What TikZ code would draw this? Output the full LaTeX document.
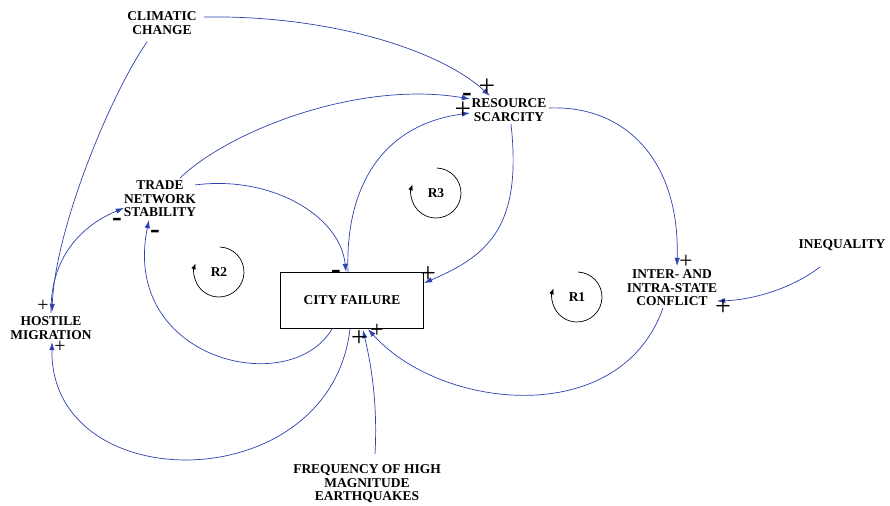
\documentclass[tikz,border=0pt]{standalone}
\usepackage{fontspec}
\setmainfont{Liberation Serif}
\usetikzlibrary{calc,arrows.meta}
\definecolor{linkblue}{RGB}{45,65,175}
\tikzset{
    var/.style={font=\bfseries\fontsize{11.5}{11.5}\selectfont, align=center, inner sep=1pt},
    link/.style={draw=linkblue, line width=0.6pt, -{Latex[length=7pt,width=4.5pt]}},
    loopsign/.style={draw=black, line width=0.6pt, -{Latex[length=5pt,width=4pt]}},
    pluslabel/.style={font=\fontsize{#1}{#1}\selectfont, inner sep=0pt},
    minuslabel/.style={font=\bfseries\fontsize{25}{25}\selectfont, inner sep=0pt},
}

\begin{document}
\begin{tikzpicture}[x=0.03cm,y=0.03cm]
            \useasboundingbox (0,0) rectangle (890,506);

            \node[var] (cc) at (162,483) {CLIMATIC\\CHANGE};
            \node[var] (rs) at (509,396) {RESOURCE\\SCARCITY};
            \node[var] (tns) at (160,307) {TRADE\\NETWORK\\STABILITY};
            \node[var, draw, line width=0.8pt, minimum width=4.29cm, minimum height=1.68cm] (cf) at (352,206) {CITY FAILURE};
            \node[var] (hm) at (51,178) {HOSTILE\\MIGRATION};
            \node[var] (ic) at (672,218) {INTER- AND\\INTRA-STATE\\CONFLICT};
            \node[var] (ineq) at (842,261) {INEQUALITY};
            \node[var] (eq) at (367,22) {FREQUENCY OF HIGH\\MAGNITUDE\\EARTHQUAKES};

            \draw[link] ($(cc)+(42,6)$) .. controls (330,491) and (440,456) .. ($(rs)+(-19,14)$);
            \draw[link] ($(cc)+(-15,-19)$) .. controls (110,411) and (55,276) .. ($(hm)+(1,16)$);
            \draw[link] ($(hm)+(0,15)$) .. controls (50,256) and (90,284) .. ($(tns)+(-36,-9)$);
            \draw[link] ($(cf)+(-20,-29)$) .. controls (290,106) and (120,146) .. ($(tns)+(-11,-21)$);
            \draw[link] ($(tns)+(35,14)$) .. controls (270,331) and (340,291) .. ($(cf)+(-6,28)$);
            \draw[link] ($(tns)+(20,21)$) .. controls (230,376) and (360,426) .. ($(rs)+(-39,11)$);
            \draw[link] ($(cf)+(-4,28)$) .. controls (345,316) and (380,381) .. ($(rs)+(-39,-3)$);
            \draw[link] ($(rs)+(2,-14)$) .. controls (522,281) and (490,251) .. ($(cf)+(72,17)$);
            \draw[link] ($(rs)+(40,2)$) .. controls (625,401) and (680,346) .. ($(ic)+(5,22)$);
            \draw[link] ($(ineq)+(-22,-22)$) .. controls (790,216) and (750,206) .. ($(ic)+(45,-13)$);
            \draw[link] ($(ic)+(-9,-20)$) .. controls (620,76) and (440,96) .. ($(cf)+(16,-29)$);
            \draw[link] ($(eq)+(8,30)$) .. controls (378,106) and (370,146) .. ($(cf)+(11,-30)$);
            \draw[link] ($(cf)+(-2,-29)$) .. controls (330,6) and (50,6) .. ($(hm)+(1,-14)$);

            \node[pluslabel=25] (s1) at (487,419) {+};
            \node[minuslabel] (s2) at (467,409) {-};
            \node[pluslabel=25] (s3) at (463,396) {+};
            \node[minuslabel] (s4) at (117,284) {-};
            \node[minuslabel] (s5) at (155,272) {-};
            \node[minuslabel] (s6) at (336,232) {-};
            \node[pluslabel=24] (s7) at (428,231) {+};
            \node[pluslabel=24] (s8) at (359,167) {+};
            \node[pluslabel=20] (s9) at (377,175) {+};
            \node[pluslabel=17] (s10) at (43,200) {+};
            \node[pluslabel=17] (s11) at (60,159) {+};
            \node[pluslabel=20] (s12) at (686,244) {+};
            \node[pluslabel=24] (s13) at (723,198) {+};

            \node[var] (r1) at (577,209) {R1};
            \node[var] (r2) at (219,234) {R2};
            \node[var] (r3) at (436,313) {R3};
            \draw[loopsign] ($(r1)+(88:25)$) arc[start angle=88, end angle=-200, radius=25];
            \draw[loopsign] ($(r2)+(88:25)$) arc[start angle=88, end angle=-200, radius=25];
            \draw[loopsign] ($(r3)+(88:25)$) arc[start angle=88, end angle=-200, radius=25];
        \end{tikzpicture}
\end{document}
